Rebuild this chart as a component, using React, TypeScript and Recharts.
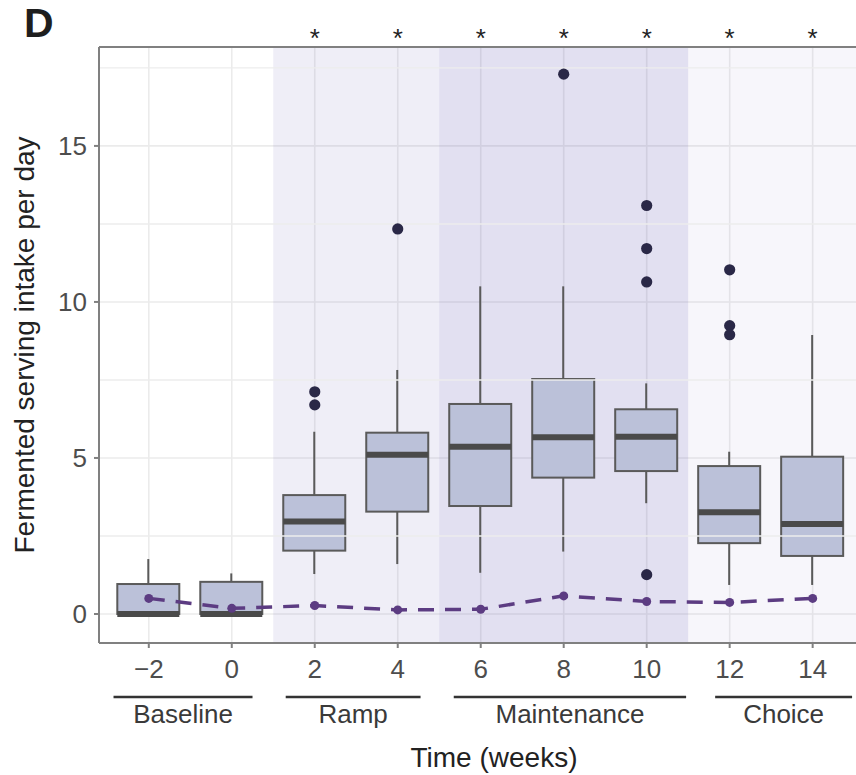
import React from 'react';
import {
  ComposedChart,
  Bar,
  Line,
  Scatter,
  XAxis,
  YAxis,
  CartesianGrid,
  ReferenceArea,
  ReferenceLine,
  ReferenceDot,
} from 'recharts';

// ---- data ----
const weeks = [-2, 0, 2, 4, 6, 8, 10, 12, 14];
const whiskerLow = [0, 0, 1.28, 1.6, 1.32, 2.0, 3.55, 0.93, 0.93];
const q1 = [0, 0, 2.03, 3.28, 3.46, 4.37, 4.58, 2.27, 1.86];
const median = [0, 0, 2.96, 5.1, 5.36, 5.66, 5.68, 3.26, 2.88];
const q3 = [0.96, 1.03, 3.81, 5.81, 6.73, 7.53, 6.56, 4.74, 5.04];
const whiskerHigh = [1.76, 1.3, 5.84, 7.82, 10.5, 10.5, 7.39, 5.2, 8.94];
const meanValues = [0.5, 0.18, 0.27, 0.13, 0.15, 0.58, 0.4, 0.37, 0.5];

const outlierWeeks = [2, 2, 4, 8, 10, 10, 10, 10, 12, 12, 12];
const outlierValues = [7.12, 6.7, 12.34, 17.3, 13.09, 11.71, 10.64, 1.26, 11.03, 9.24, 8.95];

const starWeeks = [2, 4, 6, 8, 10, 12, 14];
const starLabels = ['*', '*', '*', '*', '*', '*', '*'];
const yTicks = [0, 5, 10, 15];
const yMinorTicks = [2.5, 7.5, 12.5, 17.5];

const phaseNames = ['Baseline', 'Ramp', 'Maintenance', 'Choice'];
const phaseStart = [-2.85, 1.3, 5.35, 11.65];
const phaseEnd = [0.5, 4.55, 10.95, 14.95];

const shadeStart = [1, 5, 11];
const shadeEnd = [5, 11, 15.84];
const shadeOpacity = [0.1, 0.18, 0.05];

// ---- derived tables ----
const boxData = weeks.map((w, i) => ({
  week: w,
  range: [whiskerLow[i], whiskerHigh[i]],
  wlo: whiskerLow[i],
  q1: q1[i],
  med: median[i],
  q3: q3[i],
  whi: whiskerHigh[i],
  mean: meanValues[i],
}));

const outlierData = outlierWeeks.map((w, i) => ({ week: w, value: outlierValues[i] }));

// ---- styles ----
const X_DOMAIN: [number, number] = [-3.2, 15.84];
const Y_DOMAIN: [number, number] = [-0.93, 18.17];
const BRACKET_Y = -2.66;
const STAR_Y = 18.45;
const AXIS_GRAY = '#808080';
const FONT = '"Liberation Sans", Arial, Helvetica, sans-serif';

const BoxShape = (props: any) => {
  const { x, y, width, height, payload } = props;
  if (!payload) return null;
  const top = Math.min(y, y + height);
  const bot = Math.max(y, y + height);
  const span = payload.whi - payload.wlo;
  const k = span > 0 ? (bot - top) / span : 0;
  const py = (v: number) => top + (payload.whi - v) * k;
  const cx = x + width / 2;
  return (
    <g>
      <line x1={cx} x2={cx} y1={py(payload.whi)} y2={py(payload.q3)} stroke="#5a5a5a" strokeWidth={2} />
      <line x1={cx} x2={cx} y1={py(payload.q1)} y2={py(payload.wlo)} stroke="#5a5a5a" strokeWidth={2} />
      <rect
        x={x}
        y={py(payload.q3)}
        width={width}
        height={Math.max(0, py(payload.q1) - py(payload.q3))}
        fill="#bbc1d9"
        stroke="#5a5a5a"
        strokeWidth={2}
      />
      <line x1={x} x2={x + width} y1={py(payload.med)} y2={py(payload.med)} stroke="#4a4a4a" strokeWidth={6} />
    </g>
  );
};

const fmtX = (v: number) => (v < 0 ? `\u2212${Math.abs(v)}` : String(v));

export default function App() {
  return (
    <div
      style={{
        position: 'fixed',
        left: 0,
        top: 0,
        width: 856,
        height: 775,
        overflow: 'hidden',
        background: '#fff',
        fontFamily: FONT,
      }}
    >
      <div
        style={{
          position: 'absolute',
          left: 24,
          top: 0,
          fontSize: 41,
          fontWeight: 'bold',
          color: '#1e1e1e',
          lineHeight: 'normal',
          fontFamily: FONT,
        }}
      >
        D
      </div>
      <ComposedChart
        width={900}
        height={775}
        data={boxData}
        margin={{ top: 0, right: 11, bottom: 0, left: 0 }}
        style={{ fontFamily: FONT }}
      >
        <CartesianGrid stroke="#ebebeb" strokeWidth={1.6} />
        {yMinorTicks.map((v) => (
          <ReferenceLine key={`m${v}`} y={v} stroke="#ededed" strokeWidth={1.4} />
        ))}
        {shadeStart.map((s, i) => (
          <ReferenceArea
            key={`s${i}`}
            x1={s}
            x2={shadeEnd[i]}
            fill="#5f55af"
            fillOpacity={shadeOpacity[i]}
            stroke="none"
          />
        ))}
        <XAxis
          xAxisId="top"
          orientation="top"
          type="number"
          domain={X_DOMAIN}
          allowDataOverflow
          height={47}
          axisLine={{ stroke: AXIS_GRAY, strokeWidth: 2 }}
          tickLine={false}
          tick={false}
        />
        <XAxis
          dataKey="week"
          type="number"
          domain={X_DOMAIN}
          allowDataOverflow
          ticks={weeks}
          interval={0}
          height={132}
          tickSize={5}
          tickMargin={12}
          tickFormatter={fmtX}
          tick={{ fontSize: 26, fill: '#4d4d4d' }}
          tickLine={{ stroke: AXIS_GRAY, strokeWidth: 2 }}
          axisLine={{ stroke: AXIS_GRAY, strokeWidth: 2 }}
          label={{ value: 'Time (weeks)', position: 'insideBottom', offset: 8, fontSize: 28, fill: '#222' }}
        />
        <YAxis
          type="number"
          domain={Y_DOMAIN}
          allowDataOverflow
          ticks={yTicks}
          interval={0}
          width={99}
          tickSize={5}
          tickMargin={7}
          tick={{ fontSize: 26, fill: '#4d4d4d' }}
          tickLine={{ stroke: AXIS_GRAY, strokeWidth: 2 }}
          axisLine={{ stroke: AXIS_GRAY, strokeWidth: 2 }}
          label={{
            value: 'Fermented serving intake per day',
            angle: -90,
            position: 'insideLeft',
            offset: 24,
            fontSize: 28,
            fill: '#222',
            style: { textAnchor: 'middle' },
          }}
        />
        <Bar dataKey="range" barSize={62} shape={<BoxShape />} isAnimationActive={false} />
        <Line
          dataKey="mean"
          type="linear"
          stroke="#5c3c82"
          strokeWidth={3.5}
          strokeDasharray="16 11"
          dot={{ r: 4.5, fill: '#5c3c82', stroke: '#5c3c82', strokeWidth: 0 }}
          activeDot={false}
          isAnimationActive={false}
        />
        <Scatter
          data={outlierData}
          dataKey="value"
          isAnimationActive={false}
          shape={(p: any) => <circle cx={p.cx} cy={p.cy} r={5.6} fill="#2a2847" />}
        />
        {phaseNames.map((n, i) => (
          <ReferenceLine
            key={n}
            segment={[
              { x: phaseStart[i], y: BRACKET_Y },
              { x: phaseEnd[i], y: BRACKET_Y },
            ]}
            stroke="#333"
            strokeWidth={2.5}
            ifOverflow="visible"
            label={{ value: n, position: 'bottom', offset: 8, fontSize: 26, fill: '#3a3a3a' }}
          />
        ))}
        {starWeeks.map((w, i) => (
          <ReferenceDot
            key={`star${w}`}
            x={w}
            y={STAR_Y}
            r={0}
            fill="none"
            stroke="none"
            ifOverflow="visible"
            label={{ value: starLabels[i], position: 'center', fontSize: 26, fill: '#222' }}
          />
        ))}
      </ComposedChart>
    </div>
  );
}
